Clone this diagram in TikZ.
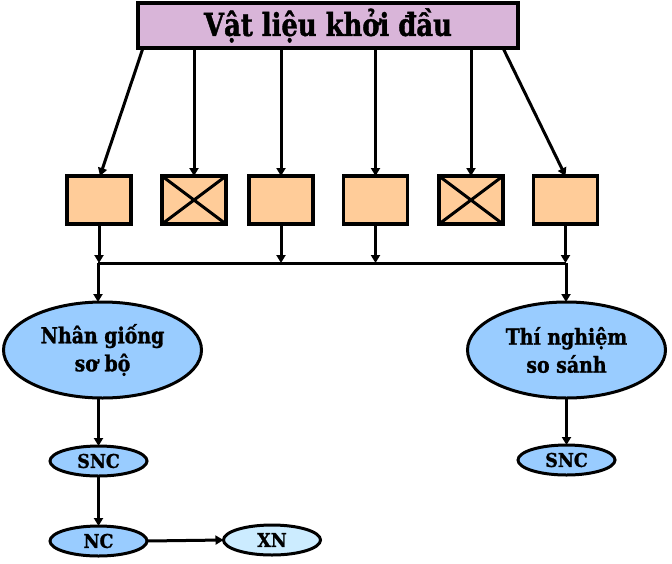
\documentclass[tikz,border=0pt]{standalone}
\usepackage{fontspec}
\setmainfont{DejaVu Serif}[FakeStretch=0.92, BoldFeatures={FakeBold=1.2}]
\newfontfamily\topfont{DejaVu Serif}[FakeStretch=0.82, BoldFeatures={FakeBold=1.3}]
\newfontfamily\ellfont{DejaVu Serif}[FakeStretch=0.86, BoldFeatures={FakeBold=1.2}]
\usetikzlibrary{arrows.meta,shapes.geometric}
\definecolor{topfill}{RGB}{217,181,217}
\definecolor{boxfill}{RGB}{255,204,153}
\definecolor{ellfill}{RGB}{153,204,255}
\definecolor{xnfill}{RGB}{204,236,255}
\tikzset{
  lw/.style={line width=3pt},
  bw/.style={line width=3.6pt},
  topbox/.style={bw, draw, fill=topfill, minimum width=380pt, minimum height=45pt, inner sep=0pt, outer sep=0pt, font=\topfont\bfseries\fontsize{31.5}{34}\selectfont},
  smallbox/.style={bw, draw, fill=boxfill, minimum width=64pt, minimum height=48pt, inner sep=0pt, outer sep=0pt},
  bigell/.style={lw, draw, fill=ellfill, ellipse, minimum width=198pt, minimum height=96pt, inner sep=0pt, outer sep=0pt, align=center, font=\ellfont\bfseries\fontsize{22}{28}\selectfont},
  smallell/.style={lw, draw, fill=ellfill, ellipse, minimum width=97pt, minimum height=30pt, inner sep=0pt, outer sep=0pt, font=\bfseries\fontsize{19}{20}\selectfont},
  arr/.style={lw, -{Triangle[length=8pt,width=9pt]}},
  ln/.style={lw}
}
\begin{document}
\begin{tikzpicture}[x=1pt,y=-1pt]
\useasboundingbox (0,0) rectangle (672,563);
\node[topbox] (top) at (328,25.5) {Vật liệu khởi đầu};
\node[smallbox] (b1) at (99,200) {};
\node[smallbox] (b2) at (194,200) {};
\node[smallbox] (b3) at (281,200) {};
\node[smallbox] (b4) at (375.5,200) {};
\node[smallbox] (b5) at (471,200) {};
\node[smallbox] (b6) at (565.5,200) {};
\draw[ln] (b2.north west) -- (b2.south east) (b2.south west) -- (b2.north east);
\draw[ln] (b5.north west) -- (b5.south east) (b5.south west) -- (b5.north east);
\draw[arr] ([xshift=-185pt]top.south) -- ([xshift=1pt]b1.north);
\draw[arr] (top.south -| b2) -- (b2.north);
\draw[arr] (top.south -| b3) -- (b3.north);
\draw[arr] (top.south -| b4) -- (b4.north);
\draw[arr] (top.south -| b5) -- (b5.north);
\draw[arr] ([xshift=175pt]top.south) -- (b6.north);
\coordinate (busL) at (98,263);
\coordinate (busR) at (566,263);
\draw[ln] (busL) -- (busR);
\draw[arr] (b1.south) -- (b1.south |- busL);
\draw[arr] (b3.south) -- (b3.south |- busL);
\draw[arr] (b4.south) -- (b4.south |- busL);
\draw[arr] (b6.south) -- (b6.south |- busR);
\node[bigell] (e1) at (102.5,350) {Nhân giống\\sơ bộ};
\node[bigell] (e2) at (566.5,350) {Thí nghiệm\\so sánh};
\draw[arr] (busL) -- (busL |- e1.north);
\draw[arr] (busR) -- (busR |- e2.north);
\node[smallell] (s1) at (98.5,461) {SNC};
\node[smallell] (n1) at (98.5,541) {NC};
\node[smallell, fill=xnfill] (x1) at (272,540) {XN};
\node[smallell] (s2) at (566.5,460) {SNC};
\draw[arr] (s1.north |- e1.south) -- (s1.north);
\draw[arr] (s1.south) -- (n1.north);
\draw[arr] (n1.east) -- (x1.west);
\draw[arr] (s2.north |- e2.south) -- (s2.north);
\end{tikzpicture}
\end{document}
